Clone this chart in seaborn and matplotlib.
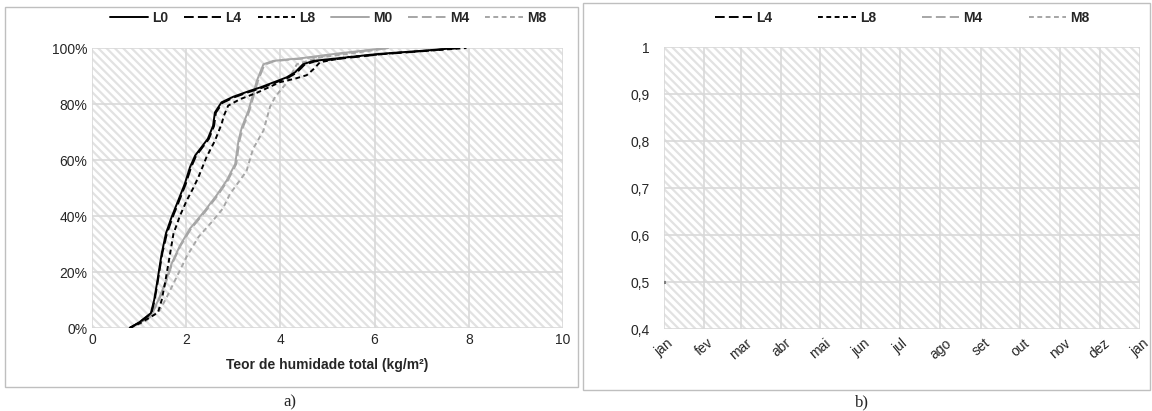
import numpy as np
import pandas as pd
import matplotlib
matplotlib.use("Agg")
import matplotlib.pyplot as plt
from matplotlib.patches import Rectangle
from matplotlib.lines import Line2D
import seaborn as sns

# --- panel a) cumulative curves (x: kg/m2, y: %) ---
L0_x = [0.80, 1.00, 1.25, 1.32, 1.39, 1.48, 1.57, 1.69, 1.83, 1.97, 2.08, 2.19, 2.46, 2.57, 2.61, 2.75, 3.00, 3.35, 3.57, 4.13, 4.31, 4.48, 4.70, 6.10, 7.00, 7.75]
L0_y = [0, 2.0, 5.3, 10, 17, 26.6, 33.8, 39.6, 45.5, 51.5, 57.4, 61.6, 67.6, 72.2, 77.0, 80.6, 82.6, 84.7, 85.9, 89.5, 91.3, 94.2, 95.4, 97.9, 99.0, 100]

L4_x = [0.80, 1.01, 1.26, 1.33, 1.40, 1.49, 1.59, 1.71, 1.85, 1.99, 2.10, 2.21, 2.48, 2.59, 2.63, 2.77, 3.02, 3.37, 3.59, 4.15, 4.34, 4.51, 4.73, 6.15, 7.05, 7.80]
L4_y = [0, 2.0, 5.2, 10, 17, 26.5, 33.7, 39.5, 45.4, 51.4, 57.2, 61.5, 67.5, 72.1, 76.9, 80.4, 82.4, 84.5, 85.7, 89.3, 91.1, 94.0, 95.2, 97.8, 98.9, 100]

L8_x = [0.80, 1.05, 1.40, 1.48, 1.55, 1.61, 1.73, 1.87, 2.01, 2.15, 2.26, 2.43, 2.61, 2.75, 2.80, 2.89, 3.14, 3.50, 3.99, 4.30, 4.56, 4.70, 4.84, 5.40, 6.50, 7.95]
L8_y = [0, 2.0, 5.5, 10, 16, 21.8, 33.7, 40.2, 45.5, 50.0, 53.9, 61.0, 66.9, 72.8, 75.8, 79.4, 81.7, 84.0, 87.8, 89.0, 90.3, 92.4, 94.9, 96.7, 98.3, 100]

M0_x = [0.80, 1.00, 1.23, 1.41, 1.55, 1.69, 1.87, 2.08, 2.40, 2.65, 2.86, 3.04, 3.11, 3.18, 3.32, 3.50, 3.64, 3.85, 4.20, 4.42, 5.20, 6.26]
M0_y = [0, 1.8, 4.0, 10, 15.9, 23.0, 29.5, 35.5, 42.0, 47.5, 52.7, 58.6, 66.9, 71.6, 77.6, 88.3, 94.2, 95.4, 96.0, 96.3, 98.0, 100]

M4_x = [0.80, 1.01, 1.24, 1.42, 1.56, 1.70, 1.88, 2.10, 2.42, 2.67, 2.88, 3.06, 3.13, 3.20, 3.34, 3.52, 3.66, 3.87, 4.22, 4.45, 5.25, 6.30]
M4_y = [0, 1.8, 4.0, 10, 15.8, 22.9, 29.4, 35.4, 41.9, 47.4, 52.6, 58.5, 66.8, 71.5, 77.5, 88.1, 94.0, 95.3, 95.9, 96.2, 97.9, 100]

M8_x = [0.80, 1.10, 1.44, 1.59, 1.80, 2.01, 2.26, 2.55, 2.78, 2.93, 3.28, 3.42, 3.64, 3.78, 3.89, 4.13, 4.35, 4.80, 5.60, 6.30]
M8_y = [0, 2.0, 6.4, 11.1, 18.3, 25.5, 32.5, 38.0, 42.7, 47.9, 56.0, 64.0, 70.5, 79.0, 82.6, 87.5, 94.2, 96.5, 98.3, 100]

# --- panel b) monthly axis, only one point visible ---
months = ["jan", "fev", "mar", "abr", "mai", "jun", "jul", "ago", "set", "out", "nov", "dez", "jan"]
b_series = ["L4", "L8", "M4", "M8"]
b_dates = ["2019-01-01"]
b_values = [0.5]

BLACK = "#000000"
GREY = "#a6a6a6"
LONG = (0, (7, 3))
SHORT = (0, (3.5, 2.5))
styles = {
    "L0": (BLACK, "-"), "L4": (BLACK, LONG), "L8": (BLACK, SHORT),
    "M0": (GREY, "-"), "M4": (GREY, LONG), "M8": (GREY, SHORT),
}

sns.set_theme(style="white")
plt.rcParams["font.family"] = ["Liberation Sans", "DejaVu Sans"]
plt.rcParams["lines.scale_dashes"] = False
plt.rcParams["hatch.linewidth"] = 1.6

fig = plt.figure(figsize=(11.52, 4.11), dpi=100)
ax1 = fig.add_axes([92 / 1152, 1 - 328 / 411, (563 - 92) / 1152, (328 - 48) / 411])
ax2 = fig.add_axes([664 / 1152, 1 - 329 / 411, (1140 - 664) / 1152, (329 - 47) / 411])


def hatch_bg(ax):
    ax.add_patch(Rectangle((0, 0), 1, 1, transform=ax.transAxes, facecolor="white",
                           edgecolor="#e2e2e2", hatch="\\" * 4, lw=0, zorder=0))
    ax.grid(True, color="#d9d9d9", lw=1.2, zorder=1)
    ax.set_axisbelow(True)
    for s in ax.spines.values():
        s.set_visible(False)
    ax.tick_params(length=0, labelsize=10, colors="#262626")


# panel a
curves = {"L0": (L0_x, L0_y), "L4": (L4_x, L4_y), "L8": (L8_x, L8_y),
          "M0": (M0_x, M0_y), "M4": (M4_x, M4_y), "M8": (M8_x, M8_y)}
hatch_bg(ax1)
for name in ["M8", "M4", "M0", "L8", "L4", "L0"]:
    xs, ys = curves[name]
    col, ls = styles[name]
    sns.lineplot(x=xs, y=ys, ax=ax1, color=col, linestyle=ls, lw=1.4,
                 sort=False, estimator=None, label=name, zorder=3)
ax1.set_xlim(0, 10)
ax1.set_ylim(0, 100)
ax1.set_xticks(np.arange(0, 11, 2))
ax1.set_yticks(np.arange(0, 101, 20))
ax1.set_yticklabels([f"{v}%" for v in range(0, 101, 20)])
ax1.set_xlabel("Teor de humidade total (kg/m²)", fontsize=10, fontweight="bold", labelpad=8)
ax1.set_ylabel("")
h, l = ax1.get_legend_handles_labels()
order = ["L0", "L4", "L8", "M0", "M4", "M8"]
hd = dict(zip(l, h))
ax1.legend([hd[k] for k in order], order, ncol=6, loc="center",
           bbox_to_anchor=(328 / 1152, 1 - 18 / 411), bbox_transform=fig.transFigure,
           frameon=False, prop={"weight": "bold", "size": 10},
           handlelength=2.7, columnspacing=1.15, handletextpad=0.3)

# panel b
hatch_bg(ax2)
bd = pd.to_datetime(b_dates)
for name in b_series:
    sns.scatterplot(x=bd, y=b_values, ax=ax2, color="#7f7f7f", s=5, linewidth=0, zorder=3)
month_ticks = pd.date_range("2019-01-01", "2020-01-01", freq="MS")
ax2.set_xlim(month_ticks[0], month_ticks[-1])
ax2.set_ylim(0.4, 1.0)
ax2.set_xticks(month_ticks)
ax2.set_xticklabels(months, rotation=40, ha="center")
ax2.tick_params(axis="x", pad=5)
ax2.set_yticks(np.arange(0.4, 1.01, 0.1))
ax2.set_yticklabels(["0,4", "0,5", "0,6", "0,7", "0,8", "0,9", "1"])
ax2.tick_params(axis="y", pad=10)
ax2.set_xlabel("")
ax2.set_ylabel("")
b_handles = [Line2D([], [], color=styles[n][0], linestyle=styles[n][1], lw=1.4) for n in b_series]
ax2.legend(b_handles, b_series, ncol=4, loc="center",
           bbox_to_anchor=(902 / 1152, 1 - 18 / 411), bbox_transform=fig.transFigure,
           frameon=False, prop={"weight": "bold", "size": 10},
           handlelength=2.7, columnspacing=3.3, handletextpad=0.3)

# panel frames and captions
fig.add_artist(Rectangle((5 / 1152, 1 - 387 / 411), 573 / 1152, 380 / 411,
                         transform=fig.transFigure, fill=False, edgecolor="#bfbfbf", lw=1))
fig.add_artist(Rectangle((583 / 1152, 1 - 390 / 411), 567 / 1152, 387 / 411,
                         transform=fig.transFigure, fill=False, edgecolor="#bfbfbf", lw=1))
fig.text(290 / 1152, 1 - 402 / 411, "a)", ha="center", va="center",
         family=["Liberation Serif"], fontsize=12)
fig.text(862 / 1152, 1 - 402 / 411, "b)", ha="center", va="center",
         family=["Liberation Serif"], fontsize=12)

fig.savefig("out.png", dpi=100)
